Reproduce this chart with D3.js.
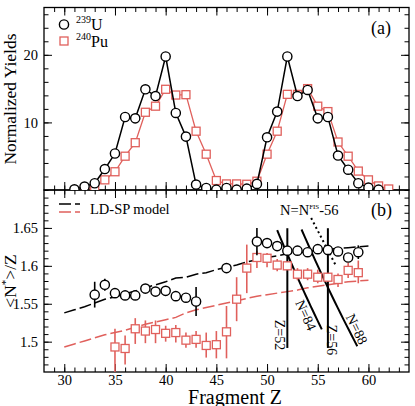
<!DOCTYPE html>
<html>
<head>
<meta charset="utf-8">
<script src="https://cdn.jsdelivr.net/npm/d3@7"></script>
<style>
  body { margin: 0; background: #fff; }
  svg text { font-family: "Liberation Serif", "Times New Roman", serif; fill: #000; }
</style>
</head>
<body>
<svg id="chart" width="415" height="406"></svg>
<script>
// (a) normalized yields
const uYieldZ = d3.range(31, 62)
const uYield = [0.1, 0.5, 1.0, 3.1, 5.4, 10.8, 10.6, 14.9, 13.9, 19.75, 11.4, 7.9, 0.8, 0.3, 0.05,
  0.3, 0.05, 0.2, 0.9, 7.8, 11.6, 19.75, 13.9, 14.8, 10.6, 10.8, 5.1, 3.0, 1.0, 0.35, 0.05]
const uYieldErr = [0, 0, 0, 0, 0.2, 0.5, 0.4, 0.5, 0.5, 0.6, 0.3, 0, 0, 0, 0,
  0, 0, 0, 0, 0, 0, 0, 0, 0, 0, 0, 0, 0, 0, 0, 0]
const puYieldZ = d3.range(32, 63)
const puYield = [0.1, 0.45, 1.5, 2.7, 5.0, 7.0, 11.5, 12.4, 14.9, 14.05, 14.1, 8.7, 5.3, 1.4, 0.9,
  0.9, 0.85, 1.3, 5.3, 8.7, 14.15, 14.15, 15.0, 12.4, 11.6, 7.1, 5.0, 2.8, 1.5, 0.6, 0.15]

// (b) <N*>/Z
const uRatioZ = [33, 34, 35, 36, 37, 38, 39, 40, 41, 42, 43, 46, 49, 50, 51, 52, 53, 54, 55, 56, 57, 58, 59]
const uRatio = [1.562, 1.575, 1.564, 1.561, 1.561, 1.570, 1.566, 1.567, 1.560, 1.558, 1.553, 1.597,
  1.632, 1.630, 1.626, 1.620, 1.620, 1.618, 1.622, 1.621, 1.619, 1.611, 1.618]
const uRatioErr = [0.017, 0.008, 0.004, 0.003, 0.003, 0.003, 0.003, 0.003, 0.003, 0.003, 0.019, 0.003,
  0.018, 0.003, 0.003, 0.003, 0.003, 0.003, 0.003, 0.003, 0.003, 0.005, 0.009]
const puRatioZ = d3.range(35, 60)
const puRatio = [1.493, 1.491, 1.517, 1.514, 1.516, 1.511, 1.512, 1.502, 1.503, 1.495, 1.496, 1.513,
  1.556, 1.597, 1.611, 1.610, 1.601, 1.600, 1.589, 1.589, 1.585, 1.585, 1.582, 1.594, 1.591]
const puRatioLo = [1.440, 1.470, 1.497, 1.498, 1.498, 1.500, 1.499, 1.492, 1.492, 1.479, 1.478, 1.478,
  1.527, 1.564, 1.597, 1.598, 1.593, 1.595, 1.581, 1.581, 1.577, 1.580, 1.572, 1.584, 1.577]
const puRatioHi = [1.517, 1.508, 1.531, 1.528, 1.528, 1.521, 1.522, 1.512, 1.514, 1.512, 1.514, 1.547,
  1.585, 1.628, 1.620, 1.617, 1.609, 1.605, 1.597, 1.597, 1.595, 1.590, 1.590, 1.604, 1.607]

// LD-SP model curves
const modelZ = d3.range(30, 61)
const uModel = [1.538, 1.542, 1.546, 1.551, 1.556, 1.559, 1.563, 1.567, 1.571, 1.575, 1.579, 1.584,
  1.585, 1.589, 1.591, 1.595, 1.598, 1.601, 1.605, 1.608, 1.611, 1.613, 1.616, 1.617, 1.619, 1.620,
  1.622, 1.623, 1.624, 1.625, 1.626]
const puModel = [1.493, 1.497, 1.501, 1.505, 1.509, 1.512, 1.515, 1.519, 1.523, 1.526, 1.529, 1.532,
  1.538, 1.542, 1.545, 1.548, 1.551, 1.554, 1.557, 1.560, 1.562, 1.564, 1.566, 1.568, 1.571, 1.573,
  1.575, 1.577, 1.579, 1.580, 1.581]

// shell lines: vertical Z lines and N = const curves (N/Z)
const zShells = [52, 56]
const nShells = [{ n: 84, z0: 51.0, z1: 55.4 }, { n: 88, z0: 53.4, z1: 58.9 }]
const fisLine = [[54.35, 1.663], [56.8, 1.600]]

const black = '#000'
const red = '#e0605c'

const svg = d3.select('#chart')

let x = d3.scaleLinear().domain([28, 64]).range([44, 409])
let yTop = d3.scaleLinear().domain([0, 27]).range([190, 7.5])
let yBot = d3.scaleLinear().domain([1.46, 1.7]).range([372, 190])

const defs = svg.append('defs')
defs.append('clipPath').attr('id', 'clipTop')
  .append('rect').attr('x', 44).attr('y', 7.5).attr('width', 365).attr('height', 182.5)
defs.append('clipPath').attr('id', 'clipBot')
  .append('rect').attr('x', 44).attr('y', 190).attr('width', 365).attr('height', 182)

//
// ticks
//

function ticks(y0, y1, yScale, yMinor, yMajor, yFormat, xLabels) {
  let xMinor = d3.range(29, 64)
  let xMajor = d3.range(30, 61, 5)
  let opts = [
    [d3.axisBottom(x), `translate(0,${y1})`, xMinor, 4.5, false],
    [d3.axisBottom(x), `translate(0,${y1})`, xMajor, 8, xLabels],
    [d3.axisTop(x), `translate(0,${y0})`, xMinor, 4.5, false],
    [d3.axisTop(x), `translate(0,${y0})`, xMajor, 8, false],
    [d3.axisLeft(yScale), 'translate(44,0)', yMinor, 4.5, false],
    [d3.axisLeft(yScale), 'translate(44,0)', yMajor, 8, true],
    [d3.axisRight(yScale), 'translate(409,0)', yMinor, 4.5, false],
    [d3.axisRight(yScale), 'translate(409,0)', yMajor, 8, false]
  ]
  opts.forEach(([ax, tr, vals, size, lab], i) => {
    ax.tickValues(vals).tickSize(-size)
    if (lab) {
      ax.tickPadding(i < 4 ? 2.5 : 6).tickFormat(i < 4 ? d3.format('d') : yFormat)
    } else {
      ax.tickFormat('')
    }
    let g = svg.append('g').attr('transform', tr).call(ax)
    g.select('.domain').remove()
    g.selectAll('line').attr('stroke', black).attr('stroke-width', 1)
    g.selectAll('text').attr('font-size', 14.5).attr('font-family', null).attr('fill', black)
  })
  svg.append('rect')
    .attr('x', 44).attr('y', y0).attr('width', 365).attr('height', y1 - y0)
    .attr('fill', 'none').attr('stroke', black).attr('stroke-width', 1.3)
}

ticks(7.5, 190, yTop, d3.range(0, 27, 2), [10, 20], d3.format('d'), false)
ticks(190, 372, yBot, d3.range(1.47, 1.695, 0.01), [1.5, 1.55, 1.6, 1.65], d => String(+d.toFixed(2)), true)

function circles(g, xs, ys, ysc) {
  g.selectAll(null).data(xs).enter().append('circle')
    .attr('cx', d => x(d)).attr('cy', (d, i) => ysc(ys[i])).attr('r', 4.6)
    .attr('fill', '#fff').attr('stroke', black).attr('stroke-width', 1.4)
}
function squares(g, xs, ys, ysc) {
  g.selectAll(null).data(xs).enter().append('rect')
    .attr('x', d => x(d) - 4).attr('y', (d, i) => ysc(ys[i]) - 4)
    .attr('width', 8).attr('height', 8)
    .attr('fill', '#fff').attr('stroke', red).attr('stroke-width', 1.3)
}
function errbars(g, xs, lo, hi, ysc, color, w) {
  g.selectAll(null).data(xs).enter().append('line')
    .attr('x1', d => x(d)).attr('x2', d => x(d))
    .attr('y1', (d, i) => ysc(lo[i])).attr('y2', (d, i) => ysc(hi[i]))
    .attr('stroke', color).attr('stroke-width', w)
}

//
// (a) yields
//

let gTop = svg.append('g').attr('clip-path', 'url(#clipTop)')
let lineTop = (xs, ys) => d3.line().x(d => x(d)).y((d, i) => yTop(ys[i]))(xs)

gTop.append('path').attr('d', lineTop(puYieldZ, puYield))
  .attr('fill', 'none').attr('stroke', red).attr('stroke-width', 1.3)
squares(gTop, puYieldZ, puYield, yTop)
gTop.append('path').attr('d', lineTop(uYieldZ, uYield))
  .attr('fill', 'none').attr('stroke', black).attr('stroke-width', 1.5)
errbars(gTop, uYieldZ, uYield.map((v, i) => v - uYieldErr[i]), uYield.map((v, i) => v + uYieldErr[i]), yTop, black, 1.3)
circles(gTop, uYieldZ, uYield, yTop)

// legend (a)
svg.append('circle').attr('cx', 64).attr('cy', 24.5).attr('r', 4.6)
  .attr('fill', '#fff').attr('stroke', black).attr('stroke-width', 1.4)
svg.append('rect').attr('x', 60).attr('y', 37).attr('width', 8).attr('height', 8)
  .attr('fill', '#fff').attr('stroke', red).attr('stroke-width', 1.3)
let l1 = svg.append('text').attr('x', 76).attr('y', 30).attr('font-size', 16)
l1.append('tspan').attr('font-size', 10).attr('dy', -7).text('239')
l1.append('tspan').attr('dy', 7).text('U')
let l2 = svg.append('text').attr('x', 76).attr('y', 47).attr('font-size', 16)
l2.append('tspan').attr('font-size', 10).attr('dy', -7).text('240')
l2.append('tspan').attr('dy', 7).text('Pu')

svg.append('text').attr('x', 371).attr('y', 34).attr('font-size', 18).text('(a)')

//
// (b) <N*>/Z
//

let gBot = svg.append('g').attr('clip-path', 'url(#clipBot)')
let lineBot = (xs, ys) => d3.line().x(d => x(d)).y((d, i) => yBot(ys[i]))(xs)

gBot.append('path').attr('d', lineBot(modelZ, uModel))
  .attr('fill', 'none').attr('stroke', black).attr('stroke-width', 1.5).attr('stroke-dasharray', '12,4')
gBot.append('path').attr('d', lineBot(modelZ, puModel))
  .attr('fill', 'none').attr('stroke', red).attr('stroke-width', 1.5).attr('stroke-dasharray', '12,4')

zShells.forEach(z => {
  gBot.append('line')
    .attr('x1', x(z)).attr('x2', x(z)).attr('y1', yBot(1.6496)).attr('y2', yBot(1.4917))
    .attr('stroke', black).attr('stroke-width', 2)
})
nShells.forEach(s => {
  let zs = d3.range(s.z0, s.z1 + 0.001, (s.z1 - s.z0) / 20)
  gBot.append('path')
    .attr('d', d3.line().x(d => x(d)).y(d => yBot(s.n / d))(zs))
    .attr('fill', 'none').attr('stroke', black).attr('stroke-width', 2)
})
gBot.append('path').attr('d', d3.line().x(d => x(d[0])).y(d => yBot(d[1]))(fisLine))
  .attr('fill', 'none').attr('stroke', black).attr('stroke-width', 2).attr('stroke-dasharray', '2,3')

errbars(gBot, puRatioZ, puRatioLo, puRatioHi, yBot, red, 1.6)
squares(gBot, puRatioZ, puRatio, yBot)
errbars(gBot, uRatioZ, uRatio.map((v, i) => v - uRatioErr[i]), uRatio.map((v, i) => v + uRatioErr[i]), yBot, black, 1.6)
circles(gBot, uRatioZ, uRatio, yBot)

// shell labels
let shellLabels = [
  { t: 'Z=52', x: 280, y: 335, r: 90 },
  { t: 'Z=56', x: 332, y: 340, r: 90 },
  { t: 'N=84', x: 306, y: 315, r: 66 },
  { t: 'N=88', x: 357, y: 329, r: 64 }
]
shellLabels.forEach(d => {
  svg.append('text')
    .attr('transform', `translate(${d.x},${d.y}) rotate(${d.r})`)
    .attr('text-anchor', 'middle').attr('dy', '0.35em')
    .attr('font-size', 14).text(d.t)
})

let fis = svg.append('text').attr('x', 280).attr('y', 215).attr('font-size', 14.5)
fis.append('tspan').text('N=N')
fis.append('tspan').attr('font-size', 7).attr('dy', -6).text('FIS')
fis.append('tspan').attr('dy', 6).text('-56')

svg.append('text').attr('x', 371).attr('y', 216).attr('font-size', 18).text('(b)')

// legend (b)
svg.append('line').attr('x1', 59).attr('x2', 80).attr('y1', 204).attr('y2', 204)
  .attr('stroke', black).attr('stroke-width', 1.5).attr('stroke-dasharray', '12,4')
svg.append('line').attr('x1', 59).attr('x2', 80).attr('y1', 212).attr('y2', 212)
  .attr('stroke', red).attr('stroke-width', 1.5).attr('stroke-dasharray', '12,4')
svg.append('text').attr('x', 90).attr('y', 214).attr('font-size', 14.5).text('LD-SP model')

//
// axis titles
//

svg.append('text')
  .attr('transform', 'translate(16,99) rotate(-90)')
  .attr('text-anchor', 'middle').attr('font-size', 17.5).text('Normalized Yields')

let yt = svg.append('text')
  .attr('transform', 'translate(16,281) rotate(-90)')
  .attr('text-anchor', 'middle').attr('font-size', 17.5)
yt.append('tspan').text('<N')
yt.append('tspan').attr('font-size', 11).attr('dy', -7).text('*')
yt.append('tspan').attr('dy', 7).text('>/Z')

svg.append('text').attr('x', 235).attr('y', 403.5)
  .attr('text-anchor', 'middle').attr('font-size', 20).text('Fragment Z')
</script>
</body>
</html>
